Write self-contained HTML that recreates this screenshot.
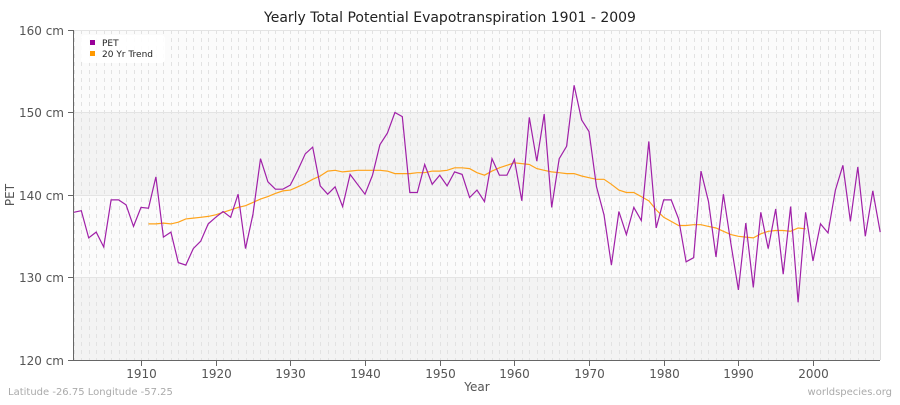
<!DOCTYPE html>
<html><head><meta charset="utf-8"><style>
body{margin:0;background:#fff;}
svg text{font-family:"DejaVu Sans","Liberation Sans",sans-serif;}
</style></head><body>
<svg width="900" height="400" viewBox="0 0 900 400" xmlns="http://www.w3.org/2000/svg">
<rect width="900" height="400" fill="#fff"/>
<rect x="74" y="30" width="806" height="82.5" fill="#fbfbfb"/>
<rect x="74" y="112.5" width="806" height="82.5" fill="#f3f3f3"/>
<rect x="74" y="195" width="806" height="82.5" fill="#fbfbfb"/>
<rect x="74" y="277.5" width="806" height="82.5" fill="#f3f3f3"/>
<g id="vg" stroke="#e2e2e2" stroke-width="1" stroke-dasharray="4,4"></g>
<g stroke="#e4e4e4" stroke-width="1">
<line x1="74" y1="30.5" x2="880" y2="30.5"/><line x1="74" y1="112.5" x2="880" y2="112.5"/><line x1="74" y1="195.5" x2="880" y2="195.5"/><line x1="74" y1="277.5" x2="880" y2="277.5"/>
</g>
<line x1="880.5" y1="30" x2="880.5" y2="360" stroke="#ddd"/>
<line x1="73.5" y1="30" x2="73.5" y2="361" stroke="#666"/>
<line x1="73" y1="360.5" x2="880" y2="360.5" stroke="#666"/>
<g stroke="#666"><line x1="68" y1="30.5" x2="73" y2="30.5"/><line x1="68" y1="112.5" x2="73" y2="112.5"/><line x1="68" y1="195.5" x2="73" y2="195.5"/><line x1="68" y1="277.5" x2="73" y2="277.5"/><line x1="68" y1="360.5" x2="73" y2="360.5"/></g>
<g id="xt" stroke="#666"></g>
<g font-size="12" fill="#555" text-anchor="end">
<text x="64" y="35">160 cm</text><text x="64" y="117">150 cm</text><text x="64" y="200">140 cm</text><text x="64" y="282">130 cm</text><text x="64" y="365">120 cm</text>
</g>
<g id="xl" font-size="12" fill="#555" text-anchor="middle"></g>
<text x="450" y="22" font-size="14" fill="#222" text-anchor="middle">Yearly Total Potential Evapotranspiration 1901 - 2009</text>
<text x="477" y="391" font-size="12" fill="#555" text-anchor="middle">Year</text>
<text x="14" y="195" font-size="12" fill="#555" text-anchor="middle" transform="rotate(-90 14 195)">PET</text>
<text x="8" y="395" font-size="10" fill="#aaa">Latitude -26.75 Longitude -57.25</text>
<text x="892" y="395" font-size="10" fill="#aaa" text-anchor="end">worldspecies.org</text>
<rect x="81" y="35" width="84" height="28" rx="4" fill="#fff" opacity="0.9"/>
<rect x="90" y="40" width="5" height="5" fill="#990099"/>
<rect x="90" y="51" width="5" height="5" fill="#ff9900"/>
<text x="102" y="46" font-size="9" fill="#222">PET</text>
<text x="102" y="57" font-size="9" fill="#222">20 Yr Trend</text>
<polyline id="trend" fill="none" stroke="#ffa31a" stroke-width="1.2"/>
<polyline id="pet" fill="none" stroke="#a020a8" stroke-width="1.2"/>
</svg>
<script>
var ns="http://www.w3.org/2000/svg";
function X(y){return 73.8+(y-1901)*7.467;}
function Y(v){return 30+(160-v)*8.25;}
var vg=document.getElementById('vg'),xt=document.getElementById('xt'),xl=document.getElementById('xl');
for(var y=1901;y<=2009;y++){var l=document.createElementNS(ns,'line');var x=Math.round(X(y))+0.5;l.setAttribute('x1',x);l.setAttribute('x2',x);l.setAttribute('y1',30);l.setAttribute('y2',360);vg.appendChild(l);}
for(var y=1910;y<=2000;y+=10){var x=Math.round(X(y))+0.5;var l=document.createElementNS(ns,'line');l.setAttribute('x1',x);l.setAttribute('x2',x);l.setAttribute('y1',361);l.setAttribute('y2',366);xt.appendChild(l);var t=document.createElementNS(ns,'text');t.setAttribute('x',x);t.setAttribute('y',378);t.textContent=y;xl.appendChild(t);}
var pet=[137.9,138.1,134.8,135.5,133.7,139.4,139.4,138.8,136.2,138.5,138.4,142.2,134.9,135.5,131.8,131.5,133.5,134.4,136.5,137.3,138.0,137.3,140.1,133.5,137.7,144.4,141.6,140.7,140.7,141.2,143,145,145.8,141.1,140.1,141,138.6,142.5,141.3,140.1,142.4,146.1,147.5,150,149.5,140.3,140.3,143.7,141.3,142.4,141.1,142.8,142.5,139.7,140.6,139.2,144.4,142.4,142.4,144.3,139.3,149.4,144.1,149.8,138.5,144.4,145.9,153.3,149.1,147.7,141,137.6,131.5,138,135.2,138.5,136.9,146.5,136,139.4,139.4,137.1,131.9,132.4,142.9,139.2,132.5,140.1,134.1,128.5,136.6,128.8,137.9,133.5,138.3,130.4,138.6,127,137.9,132,136.5,135.4,140.6,143.6,136.8,143.4,135,140.5,135.5];
var tr=[136.5,136.5,136.6,136.5,136.7,137.1,137.2,137.3,137.4,137.6,137.9,138.2,138.5,138.7,139.1,139.5,139.8,140.2,140.5,140.6,141,141.4,141.9,142.3,142.9,143,142.8,142.9,143,143,143,143,142.9,142.6,142.6,142.6,142.7,142.7,142.9,142.9,143,143.3,143.3,143.2,142.7,142.4,142.9,143.3,143.6,143.9,143.8,143.7,143.2,143,142.8,142.7,142.6,142.6,142.3,142.1,141.9,141.9,141.3,140.6,140.3,140.3,139.8,139.3,138.2,137.3,136.8,136.3,136.3,136.4,136.4,136.2,136,135.6,135.2,135,134.9,134.8,135.3,135.6,135.7,135.7,135.6,136,135.9];
document.getElementById('pet').setAttribute('points',pet.map(function(v,i){return X(1901+i).toFixed(1)+','+Y(v).toFixed(1);}).join(' '));
document.getElementById('trend').setAttribute('points',tr.map(function(v,i){return X(1911+i).toFixed(1)+','+Y(v).toFixed(1);}).join(' '));
</script>
</body></html>
